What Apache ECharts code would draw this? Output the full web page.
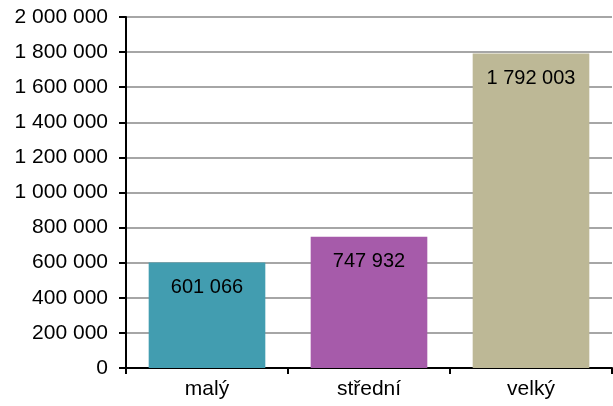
<!DOCTYPE html>
<html><head><meta charset="utf-8">
<script src="https://cdn.jsdelivr.net/npm/echarts@6/dist/echarts.min.js"></script>
<style>html,body{margin:0;padding:0;background:#fff}#c{width:613px;height:406px}</style>
</head><body><div id="c"></div>
<script>
var categories = ['malý', 'střední', 'velký'];
var values = [601066, 747932, 1792003];
var colors = ['#429DB0', '#A65BAA', '#BDB896'];

function fmt(v){ return String(v).replace(/\B(?=(\d{3})+(?!\d))/g, ' '); }
var FF = 'Liberation Sans, Arial, sans-serif';

var chart = echarts.init(document.getElementById('c'));
chart.setOption({
  animation: false,
  textStyle: {fontFamily: FF},
  grid: {left: 126, right: 1, top: 17, bottom: 38},
  xAxis: {
    type: 'category', data: categories,
    axisLine: {lineStyle: {color: '#000', width: 2}},
    axisTick: {show: true, length: 6, lineStyle: {color: '#000', width: 2}},
    axisLabel: {color: '#000', fontSize: 21, margin: 11, fontFamily: FF}
  },
  yAxis: {
    type: 'value', min: 0, max: 2000000, interval: 200000,
    axisLine: {show: true, lineStyle: {color: '#000', width: 2}},
    axisTick: {show: true, length: 7, lineStyle: {color: '#000', width: 2}},
    axisLabel: {color: '#000', fontSize: 21, margin: 18, formatter: fmt, fontFamily: FF},
    splitLine: {show: true, lineStyle: {color: '#a6a6a6', width: 2}}
  },
  series: [{
    type: 'bar',
    barCategoryGap: '28%',
    data: values.map(function(v, i){ return {value: v, itemStyle: {color: colors[i]}}; }),
    label: {show: true, position: 'insideTop', distance: 15, color: '#000', fontSize: 20,
      fontFamily: FF,
      formatter: function(p){ return fmt(p.value); }}
  }]
});
</script></body></html>
